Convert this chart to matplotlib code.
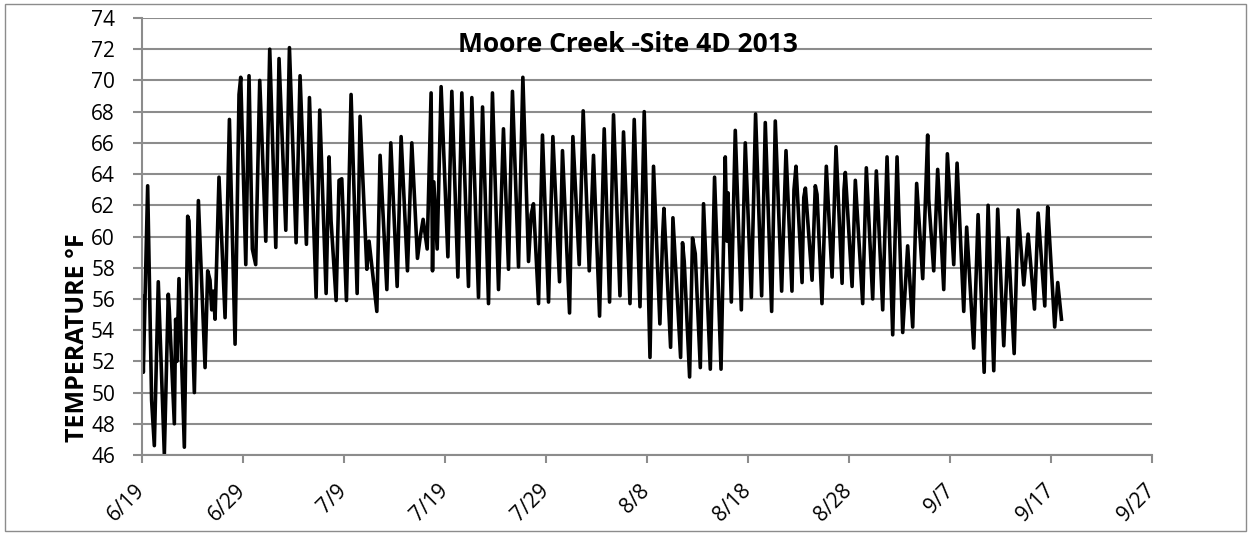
import numpy as np
import matplotlib
matplotlib.use("Agg")
import matplotlib.pyplot as plt
from matplotlib.patches import Rectangle

# daily highs/lows (and small wiggles), days since 6/19
day_offset = [
    0.00, 0.18, 0.61, 1.00, 1.27, 1.66, 2.26, 2.65, 2.75, 3.25,
    3.38, 3.50, 3.71, 4.24, 4.57, 4.70, 5.23, 5.63, 6.29, 6.55,
    6.78, 6.95, 7.11, 7.28, 7.67, 8.27, 8.70, 9.26, 9.65, 9.82,
    10.32, 10.64, 10.97, 11.30, 11.70, 12.30, 12.69, 13.29, 13.61, 14.28,
    14.64, 15.30, 15.69, 16.32, 16.62, 17.28, 17.64, 18.27, 18.56, 18.76,
    19.26, 19.55, 19.82, 20.28, 20.74, 21.34, 21.63, 22.30, 22.52, 23.29,
    23.61, 24.28, 24.67, 25.30, 25.69, 26.32, 26.75, 27.31, 27.57, 27.87,
    28.27, 28.66, 28.80, 28.93, 29.26, 29.65, 30.32, 30.71, 31.31, 31.70,
    32.36, 32.69, 33.35, 33.75, 34.34, 34.73, 35.33, 35.82, 36.32, 36.71,
    37.31, 37.74, 38.30, 38.56, 38.79, 39.29, 39.68, 40.28, 40.71, 41.37,
    41.66, 42.36, 42.69, 43.32, 43.71, 44.31, 44.73, 45.33, 45.79, 46.32,
    46.71, 47.35, 47.70, 48.34, 48.76, 49.33, 49.75, 50.32, 50.67, 51.30,
    51.57, 51.70, 52.36, 52.59, 53.35, 53.54, 53.71, 54.24, 54.53, 54.80,
    55.30, 55.62, 56.29, 56.71, 57.35, 57.77, 57.94, 58.04, 58.37, 58.76,
    59.36, 59.75, 60.35, 60.77, 61.37, 61.73, 62.36, 62.72, 63.35, 63.78,
    64.37, 64.57, 64.77, 65.37, 65.54, 65.70, 66.36, 66.68, 66.85, 67.34,
    67.77, 68.34, 68.73, 69.33, 69.52, 69.65, 70.32, 70.64, 71.37, 71.73,
    72.36, 72.72, 73.35, 73.78, 74.34, 74.77, 75.33, 75.82, 76.32, 76.71,
    77.31, 77.80, 77.90, 78.40, 78.79, 79.39, 79.75, 80.38, 80.71, 81.37,
    81.66, 82.36, 82.79, 83.39, 83.78, 84.34, 84.73, 85.33, 85.76, 86.36,
    86.75, 87.31, 87.74, 88.37, 88.73, 89.39, 89.55, 89.68, 90.37, 90.67,
    91.04,
]
temp_f = [
    56.2, 51.3, 63.25, 49.5, 46.6, 57.1, 46.05, 56.3, 55.3, 48.0,
    54.7, 52.0, 57.3, 46.5, 61.3, 61.0, 50.0, 62.3, 51.6, 57.8,
    57.2, 55.3, 56.5, 54.7, 63.8, 54.8, 67.5, 53.1, 69.1, 70.2,
    58.2, 70.3, 59.2, 58.2, 70.0, 59.7, 72.0, 59.3, 71.4, 60.4,
    72.1, 59.6, 70.3, 59.5, 68.9, 56.1, 68.1, 56.35, 65.1, 61.0,
    55.9, 63.6, 63.7, 55.9, 69.1, 56.35, 67.7, 57.9, 59.7, 55.2,
    65.2, 56.6, 66.0, 56.8, 66.4, 57.8, 66.0, 58.6, 59.9, 61.1,
    59.2, 69.2, 57.8, 63.5, 59.2, 69.6, 58.7, 69.3, 57.4, 69.2,
    56.8, 68.9, 56.1, 68.3, 55.7, 69.2, 56.6, 66.9, 57.9, 69.3,
    58.05, 70.2, 58.4, 61.4, 62.1, 55.7, 66.5, 55.8, 66.4, 57.1,
    65.5, 55.1, 66.4, 58.2, 68.05, 57.8, 65.2, 54.9, 66.9, 55.8,
    67.8, 56.2, 66.7, 55.7, 67.5, 55.5, 68.0, 52.25, 64.5, 54.4,
    60.0, 61.8, 52.9, 61.2, 52.25, 59.6, 58.4, 51.0, 59.9, 58.9,
    51.6, 62.1, 51.5, 63.8, 51.5, 65.1, 59.7, 62.8, 55.8, 66.8,
    55.3, 66.0, 56.1, 67.85, 56.2, 67.3, 55.2, 67.4, 56.5, 65.5,
    56.5, 63.0, 64.5, 57.05, 62.5, 63.1, 57.2, 63.25, 62.7, 55.7,
    64.5, 57.4, 65.75, 57.0, 63.0, 64.1, 56.8, 63.6, 55.7, 64.4,
    56.0, 64.2, 55.3, 65.1, 53.7, 65.1, 53.85, 59.4, 54.2, 63.4,
    57.3, 66.5, 62.4, 57.8, 64.3, 56.6, 65.3, 58.2, 64.7, 55.2,
    60.6, 52.85, 61.4, 51.3, 62.0, 51.4, 61.75, 53.0, 59.9, 52.5,
    61.7, 56.9, 60.15, 55.35, 61.5, 55.55, 60.0, 61.9, 54.2, 57.05,
    54.7,
]

tick_days = [0, 10, 20, 30, 40, 50, 60, 70, 80, 90, 100]
tick_labels = ['6/19', '6/29', '7/9', '7/19', '7/29', '8/8',
               '8/18', '8/28', '9/7', '9/17', '9/27']
y_ticks = list(range(46, 75, 2))

plt.rcParams['font.family'] = ['Open Sans', 'DejaVu Sans']
grey = '#8c8c8c'

W, H = 1251, 535
fig = plt.figure(figsize=(W / 100, H / 100), dpi=100)
ax = fig.add_axes([141.5 / W, 1 - 455 / H, (1152 - 141.5) / W, (455 - 18) / H])

ax.plot(day_offset, temp_f, color='black', lw=2.6, solid_joinstyle='round')

ax.set_xlim(0, 100)
ax.set_ylim(46, 74)
ax.set_yticks(y_ticks)
ax.set_xticks(tick_days)
ax.set_xticklabels(tick_labels, rotation=45, ha='right', va='center',
                   rotation_mode='anchor')

ax.grid(axis='y', color=grey, lw=1.5)
ax.set_axisbelow(True)
for side in ['top', 'right']:
    ax.spines[side].set_visible(False)
for side in ['left', 'bottom']:
    ax.spines[side].set_color(grey)
    ax.spines[side].set_linewidth(1.5)
ax.tick_params(axis='y', length=6.5, width=1.5, color=grey, pad=12.5,
               labelsize=15)
ax.tick_params(axis='x', length=5.5, width=1.5, color=grey, pad=18,
               labelsize=15)

fig.text(628 / W, 1 - 45 / H, 'Moore Creek -Site 4D 2013', ha='center',
         va='center', fontsize=19, fontweight='bold')
# y label sits right against the tick numbers, as in the original
fig.text(78 / W, 1 - 338 / H, 'TEMPERATURE °F', rotation=90, ha='center',
         va='center', fontsize=18, fontweight='bold')

fig.patches.append(Rectangle((5 / W, 4 / H), 1241 / W, 527 / H,
                             transform=fig.transFigure, fill=False,
                             edgecolor=grey, lw=1))

fig.savefig('out.png', dpi=100)
